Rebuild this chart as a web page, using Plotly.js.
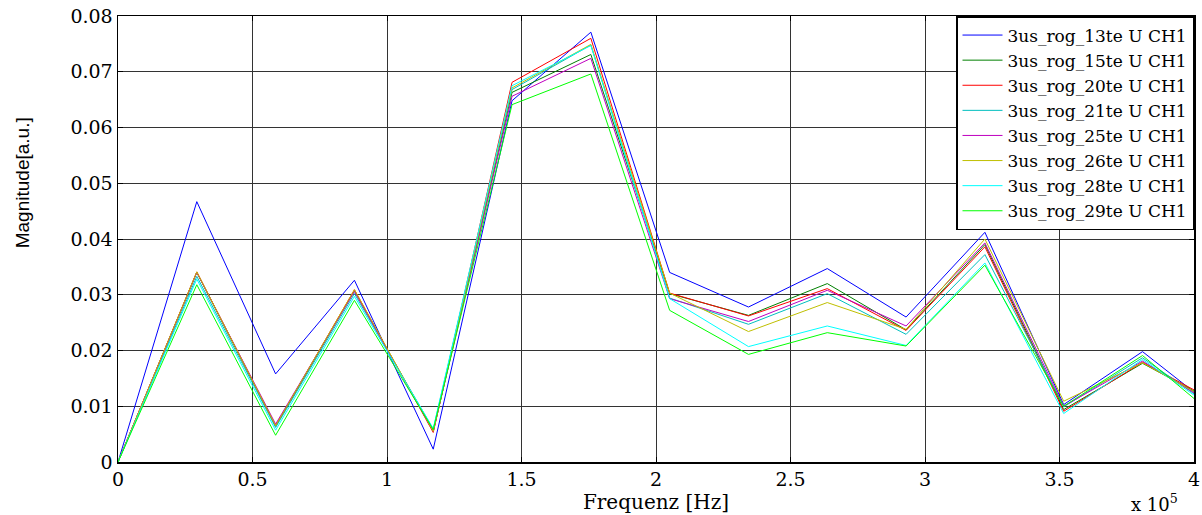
<!DOCTYPE html>
<html>
<head>
<meta charset="utf-8">
<script src="https://cdn.plot.ly/plotly-3.0.1.min.js"></script>
<style>
  html, body { margin: 0; padding: 0; background: #fff; }
  #plot { width: 1202px; height: 515px; }
</style>
</head>
<body>
<div id="plot"></div>
<script>
// FFT bin frequencies (Hz)
const frequency = [0, 29297, 58594, 87891, 117188, 146484, 175781, 205078,
                   234375, 263672, 292969, 322266, 351563, 380859, 410156];

// Spectral magnitude per measurement
const mag13 = [0, 0.0467, 0.0158, 0.0326, 0.0023, 0.0648, 0.0771, 0.0340, 0.0278, 0.0347, 0.0260, 0.0412, 0.0103, 0.0198, 0.0087];
const mag15 = [0, 0.0340, 0.0064, 0.0307, 0.0055, 0.0663, 0.0731, 0.0302, 0.0263, 0.0320, 0.0237, 0.0390, 0.0094, 0.0177, 0.0101];
const mag20 = [0, 0.0341, 0.0065, 0.0309, 0.0053, 0.0681, 0.0760, 0.0303, 0.0262, 0.0311, 0.0236, 0.0386, 0.0091, 0.0179, 0.0103];
const mag21 = [0, 0.0333, 0.0062, 0.0302, 0.0059, 0.0668, 0.0748, 0.0294, 0.0247, 0.0302, 0.0229, 0.0372, 0.0099, 0.0187, 0.0088];
const mag25 = [0, 0.0340, 0.0068, 0.0306, 0.0055, 0.0656, 0.0724, 0.0293, 0.0252, 0.0308, 0.0244, 0.0393, 0.0100, 0.0181, 0.0094];
const mag26 = [0, 0.0341, 0.0065, 0.0309, 0.0055, 0.0671, 0.0749, 0.0303, 0.0234, 0.0286, 0.0238, 0.0400, 0.0109, 0.0178, 0.0099];
const mag28 = [0, 0.0328, 0.0057, 0.0297, 0.0060, 0.0675, 0.0747, 0.0293, 0.0207, 0.0244, 0.0209, 0.0357, 0.0087, 0.0184, 0.0086];
const mag29 = [0, 0.0318, 0.0048, 0.0290, 0.0058, 0.0641, 0.0696, 0.0272, 0.0193, 0.0232, 0.0208, 0.0353, 0.0100, 0.0191, 0.0073];

const seriesNames = ['3us_rog_13te U CH1', '3us_rog_15te U CH1', '3us_rog_20te U CH1', '3us_rog_21te U CH1',
                     '3us_rog_25te U CH1', '3us_rog_26te U CH1', '3us_rog_28te U CH1', '3us_rog_29te U CH1'];
const seriesValues = [mag13, mag15, mag20, mag21, mag25, mag26, mag28, mag29];
const seriesColors = ['#0000ff', '#008000', '#ff0000', '#00bfbf', '#bf00bf', '#bfbf00', '#00ffff', '#00ff00'];

// Axis ticks
const xTickVals = [0, 50000, 100000, 150000, 200000, 250000, 300000, 350000, 400000];
const xTickText = ['0', '0.5', '1', '1.5', '2', '2.5', '3', '3.5', '4'];
const yTickVals = [0, 0.01, 0.02, 0.03, 0.04, 0.05, 0.06, 0.07, 0.08];
const yTickText = ['0', '0.01', '0.02', '0.03', '0.04', '0.05', '0.06', '0.07', '0.08'];

const traces = seriesValues.map((vals, i) => ({
  type: 'scatter',
  mode: 'lines',
  x: frequency,
  y: vals,
  name: seriesNames[i],
  line: { color: seriesColors[i], width: 1 }
}));

const serif = '"DejaVu Serif", "Liberation Serif", serif';
const sans = '"Liberation Sans", Arial, sans-serif';

const layout = {
  width: 1202,
  height: 515,
  margin: { l: 118, r: 8, t: 16, b: 53, pad: 0 },
  paper_bgcolor: '#ffffff',
  plot_bgcolor: '#ffffff',
  showlegend: true,
  legend: {
    x: 1, xanchor: 'right', y: 1, yanchor: 'top',
    bgcolor: '#ffffff', bordercolor: '#000000', borderwidth: 1.5,
    font: { family: serif, size: 17, color: '#000' },
    itemwidth: 40,
    tracegroupgap: 0
  },
  xaxis: {
    range: [0, 400000],
    tickvals: xTickVals,
    ticktext: xTickText,
    ticks: 'inside', ticklen: 5, tickcolor: '#000',
    showgrid: true, gridcolor: '#333', gridwidth: 1,
    zeroline: false,
    showline: true, linecolor: '#000', linewidth: 1.5, mirror: 'ticks',
    tickfont: { family: serif, size: 19, color: '#000' },
    title: { text: 'Frequenz [Hz]', font: { family: serif, size: 20, color: '#000' }, standoff: 0 }
  },
  yaxis: {
    range: [0, 0.08],
    tickvals: yTickVals,
    ticktext: yTickText,
    ticks: 'inside', ticklen: 5, tickcolor: '#000',
    showgrid: true, gridcolor: '#333', gridwidth: 1,
    zeroline: false,
    showline: true, linecolor: '#000', linewidth: 1.5, mirror: 'ticks',
    tickfont: { family: serif, size: 19, color: '#000' }
  },
  annotations: [
    {
      // y-axis label, sitting above the vertical centre as in the original figure
      xref: 'paper', yref: 'paper', x: -0.0892, y: 0.625,
      xanchor: 'center', yanchor: 'middle', textangle: -90, showarrow: false,
      text: 'Magnitude[a.u.]',
      font: { family: sans, size: 19, color: '#000' }
    },
    {
      xref: 'paper', yref: 'paper', x: 1, y: 0, xanchor: 'right', yanchor: 'top',
      xshift: -14, yshift: -27, showarrow: false,
      text: 'x 10<sup>5</sup>',
      font: { family: serif, size: 18, color: '#000' }
    }
  ]
};

Plotly.newPlot('plot', traces, layout, { displayModeBar: false, staticPlot: true });
</script>
</body>
</html>
